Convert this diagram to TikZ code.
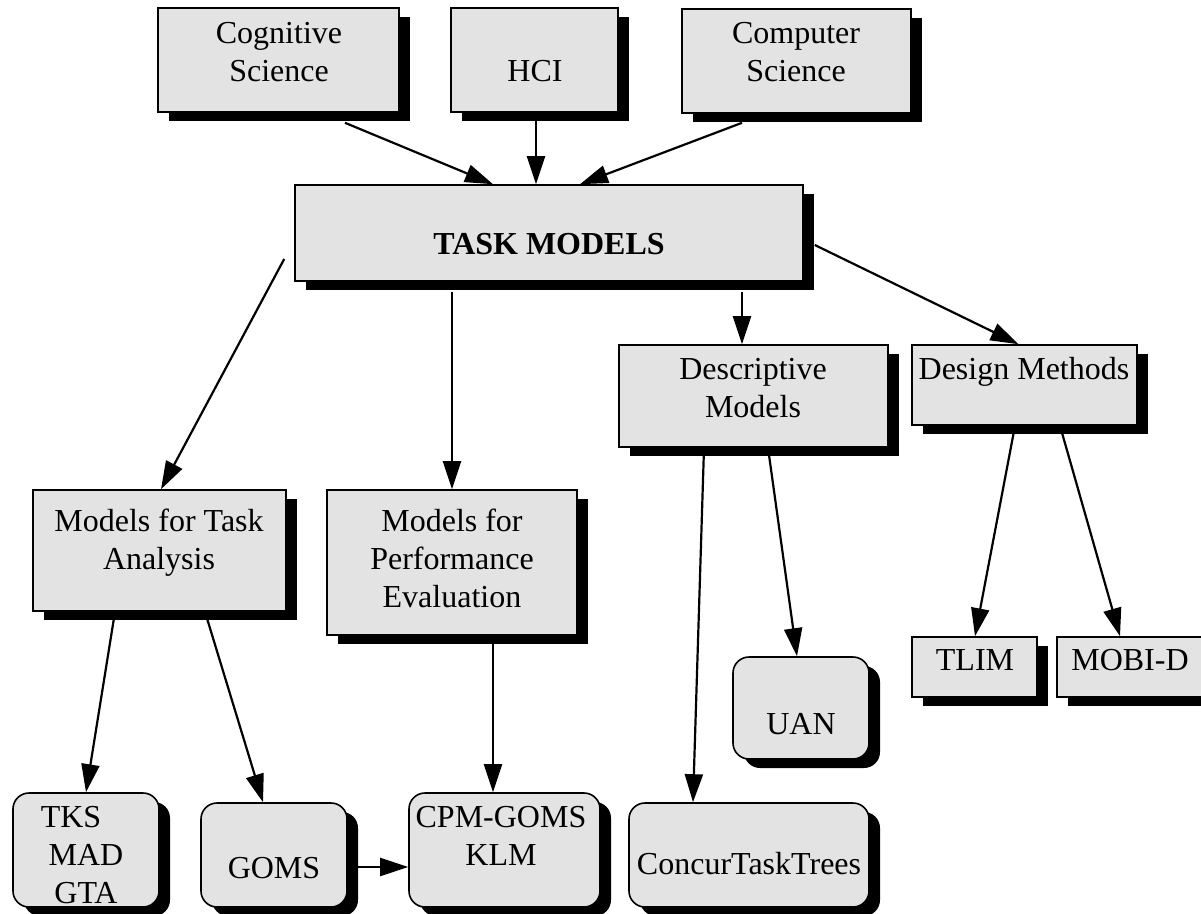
\documentclass[tikz,border=0pt]{standalone}
\usepackage{fontspec}
\setmainfont{Liberation Serif}
\usetikzlibrary{arrows.meta,shadows,calc}
\definecolor{boxgray}{RGB}{227,227,227}
\tikzset{
  box/.style={draw=black, line width=1.6pt, fill=boxgray, inner sep=0pt,
    drop shadow={shadow xshift=11pt, shadow yshift=-9pt, fill=black, opacity=1}},
  rbox/.style={box, rounded corners=16pt},
  lbl/.style={font=\fontsize{32}{38}\selectfont, align=center, inner sep=0pt},
  arr/.style={line width=2.2pt, -{Triangle[length=28pt,width=18pt]}},
}
\newcommand\mkbox[6]{\node[#6, minimum width={(#4)-(#2)}, minimum height={(#5)-(#3)}] (#1) at ({((#2)+(#4))/2},{((#3)+(#5))/2}) {};}
\newcommand\lab[4]{\node[lbl, anchor=north] (#1) at (#2,{#3-26.6}) {#4};}
\begin{document}
\begin{tikzpicture}[x=1pt,y=-1pt]
\fill[white] (0,0) rectangle (1201,913);
\useasboundingbox (0,0) rectangle (1201,913);
% boxes
\mkbox{cog}{158}{8}{399}{112}{box}
\mkbox{hci}{451}{8}{618}{112}{box}
\mkbox{cs}{682}{9}{911}{113}{box}
\mkbox{tm}{295}{185}{803}{281}{box}
\mkbox{desc}{619}{345}{888}{447}{box}
\mkbox{design}{912}{345}{1137}{425}{box}
\mkbox{mta}{33}{490}{286}{611}{box}
\mkbox{mpe}{327}{490}{577}{635}{box}
\mkbox{tlim}{912}{637}{1037}{697}{box}
\mkbox{mobi}{1057}{637}{1204}{697}{box}
\mkbox{uan}{733}{657}{869}{759}{rbox}
\mkbox{ctt}{629}{803}{869}{907}{rbox}
\mkbox{tks}{13}{793}{159}{907}{rbox}
\mkbox{goms}{201}{803}{347}{907}{rbox}
\mkbox{cpm}{409}{793}{600}{907}{rbox}
% labels
\lab{cogT}{279}{43}{\strut Cognitive\\\strut Science}
\lab{hciT}{535}{81}{\strut HCI}
\lab{csT}{796}{43}{\strut Computer\\\strut Science}
\lab{tmT}{549}{254}{\strut\bfseries TASK MODELS}
\lab{descT}{753}{379}{\strut Descriptive\\\strut Models}
\lab{designT}{1024}{379}{\strut Design Methods}
\lab{mtaT}{159}{531}{\strut Models for Task\\\strut Analysis}
\lab{mpeT}{452}{531}{\strut Models for\\\strut Performance\\\strut Evaluation}
\lab{tlimT}{975}{670}{\strut TLIM}
\lab{mobiT}{1130}{670}{\strut MOBI-D}
\lab{uanT}{801}{734}{\strut UAN}
\lab{cttT}{749}{874}{\strut ConcurTaskTrees}
\lab{tksT}{86}{827}{\strut TKS\hspace*{30pt}\\\strut MAD\\\strut GTA}
\lab{gomsT}{274}{878}{\strut GOMS}
\lab{cpmT}{501}{827}{\strut CPM-GOMS\\\strut KLM}
% connectors
\draw[arr] ($(cog.south)+(66.5,10)$) -- ($(tm.north)+(-56,0)$);
\draw[arr] ($(hci.south)+(1.5,0)$) -- ($(tm.north)+(-13,0)$);
\draw[arr] ($(cs.south)+(-54.5,9)$) -- ($(tm.north)+(31,0)$);
\draw[arr] ($(tm.west)+(-10,26)$) -- ($(mta.north)+(1.5,0)$);
\draw[arr] ($(tm.south)+(-97,10)$) -- (mpe.north);
\draw[arr] ($(tm.south)+(193,10)$) -- ($(desc.north)+(-11.5,0)$);
\draw[arr] ($(tm.east)+(11,12)$) -- ($(design.north)+(-6,0)$);
\draw[arr] ($(desc.south)+(-49.5,0)$) -- ($(ctt.north)+(-56,0)$);
\draw[arr] ($(desc.south)+(14.5,0)$) -- ($(uan.north)+(-4,0)$);
\draw[arr] ($(design.south)+(-9.5,0)$) -- ($(tlim.north)+(0.5,0)$);
\draw[arr] ($(design.south)+(35.5,0)$) -- ($(mobi.north)+(-10.5,0)$);
\draw[arr] ($(mta.south)+(-44.5,0)$) -- (tks.north);
\draw[arr] ($(mta.south)+(45.5,0)$) -- ($(goms.north)+(-11,0)$);
\draw[arr] ($(mpe.south)+(41,0)$) -- ($(cpm.north)+(-11.5,0)$);
\draw[arr] ($(goms.east)+(0,12)$) -- ($(cpm.west)+(0,17)$);
\end{tikzpicture}
\end{document}
